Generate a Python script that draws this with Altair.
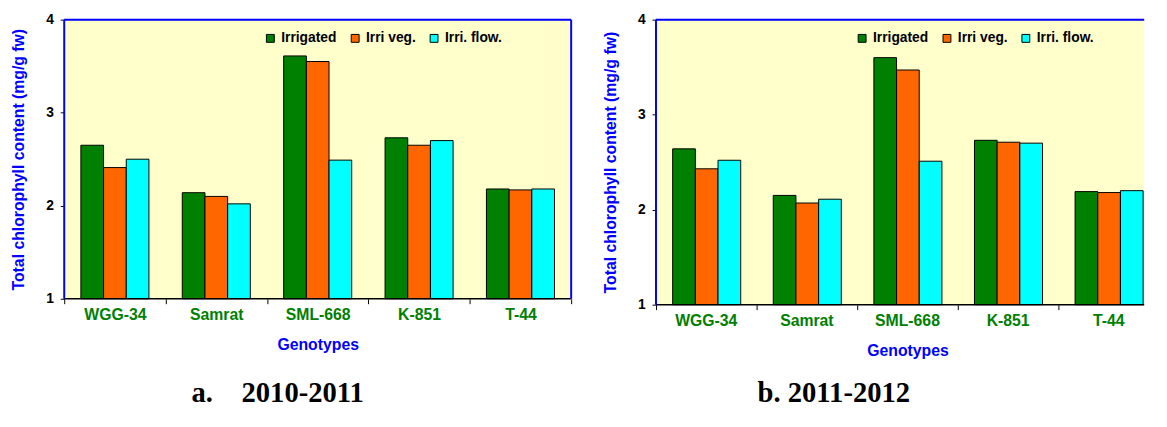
import altair as alt
import pandas as pd

genotypes = ["WGG-34", "Samrat", "SML-668", "K-851", "T-44"]
treatments = ["Irrigated", "Irri veg.", "Irri. flow."]
colors = ["#008000", "#FF6600", "#00FFFF"]

irrigated_2010 = [2.65, 2.14, 3.61, 2.73, 2.18]
irri_veg_2010 = [2.41, 2.10, 3.55, 2.65, 2.17]
irri_flow_2010 = [2.50, 2.02, 2.49, 2.70, 2.18]

irrigated_2011 = [2.64, 2.15, 3.60, 2.73, 2.19]
irri_veg_2011 = [2.43, 2.07, 3.47, 2.71, 2.18]
irri_flow_2011 = [2.52, 2.11, 2.51, 2.70, 2.20]

y_ticks = [1, 2, 3, 4]
FONT = "Liberation Sans"
BORDER = "#0000FF"


def make_df(irr, veg, flow):
    rows = []
    for i, g in enumerate(genotypes):
        for t, vals in zip(treatments, [irr, veg, flow]):
            rows.append({"Genotype": g, "Treatment": t, "Value": vals[i]})
    return pd.DataFrame(rows)


def panel(df, width, height, x_range, title_text, title_dx, title_offset, extent_ticks):
    xs = dict(paddingInner=0, paddingOuter=0)
    if x_range is not None:
        xs["range"] = x_range
    axis_kw = dict(
        title="Genotypes", labelAngle=0, labelColor="#008000", labelFont=FONT,
        labelFontSize=16, labelFontWeight="bold", labelPadding=3,
        tickSize=5, tickColor="black", tickWidth=1, domain=False, grid=False,
        titleColor="#0000FF", titleFont=FONT, titleFontSize=16,
        titleFontWeight="bold", titlePadding=14.5,
    )
    if extent_ticks:
        axis_kw["tickBand"] = "extent"
    else:
        axis_kw["bandPosition"] = 0
    bars = alt.Chart(df).mark_bar(stroke="black", strokeWidth=1).encode(
        x=alt.X("Genotype:N", sort=genotypes, scale=alt.Scale(**xs), axis=alt.Axis(**axis_kw)),
        xOffset=alt.XOffset("Treatment:N", sort=treatments,
                            scale=alt.Scale(paddingInner=0, paddingOuter=0.735)),
        y=alt.Y("Value:Q", scale=alt.Scale(domain=[1, 4], nice=False, zero=False),
                axis=alt.Axis(values=y_ticks, title="Total chlorophyll content (mg/g fw)",
                              format="d", grid=False, domain=False, tickSize=4,
                              tickColor="black", labelFont=FONT, labelFontSize=14,
                              labelFontWeight="bold", labelColor="black", labelPadding=7,
                              titleColor="#0000FF", titleFont=FONT, titleFontSize=16,
                              titleFontWeight="bold", titlePadding=19)),
        y2=alt.datum(1),
        color=alt.Color("Treatment:N", sort=treatments,
                        scale=alt.Scale(domain=treatments, range=colors),
                        legend=alt.Legend(orient="none", legendX=202, legendY=12,
                                          direction="horizontal", title=None,
                                          gridAlign="none",
                                          symbolType="square", symbolSize=64,
                                          symbolStrokeColor="black", symbolStrokeWidth=1,
                                          labelFont=FONT, labelFontSize=14,
                                          labelFontWeight="bold", labelColor="black",
                                          columnPadding=11, labelOffset=4)),
    )
    one = alt.Chart(pd.DataFrame({"v": [1]}))
    base = one.mark_rule(color="black", strokeWidth=1.5).encode(
        y=alt.datum(1), x=alt.value(0), x2=alt.value(width)
    )
    top = one.mark_rule(color=BORDER, strokeWidth=2).encode(
        y=alt.datum(4), x=alt.value(0), x2=alt.value(width)
    )
    left_edge = one.mark_rule(color=BORDER, strokeWidth=2).encode(
        x=alt.value(0), y=alt.datum(1), y2=alt.datum(4)
    )
    layers = [bars, base, top, left_edge]
    if extent_ticks:
        right_edge = one.mark_rule(color=BORDER, strokeWidth=2).encode(
            x=alt.value(width), y=alt.datum(1), y2=alt.datum(4)
        )
        layers.append(right_edge)
    return alt.layer(*layers).properties(
        width=width, height=height,
        title=alt.TitleParams(text=title_text, orient="bottom", anchor="start",
                              frame="group", dx=title_dx, offset=title_offset,
                              font="Liberation Serif", fontSize=29,
                              fontWeight="bold", color="black"),
    )


left = panel(make_df(irrigated_2010, irri_veg_2010, irri_flow_2010), 514, 283, None,
             "a.\u00a0\u00a0\u00a0\u00a02010-2011", 129, 27, True)
right = panel(make_df(irrigated_2011, irri_veg_2011, irri_flow_2011), 495, 289, [0, 510],
              "b. 2011-2012", 103, 21, False)

chart = alt.hconcat(left, right, spacing=31).resolve_scale(
    color="independent"
).resolve_legend(color="independent").configure_view(
    fill="#FFFFCC", strokeWidth=0
).properties(
    padding={"left": 3, "top": 2, "right": 0, "bottom": 0}
)

chart.save("out.html", embed_options={"renderer": "svg", "actions": False})
